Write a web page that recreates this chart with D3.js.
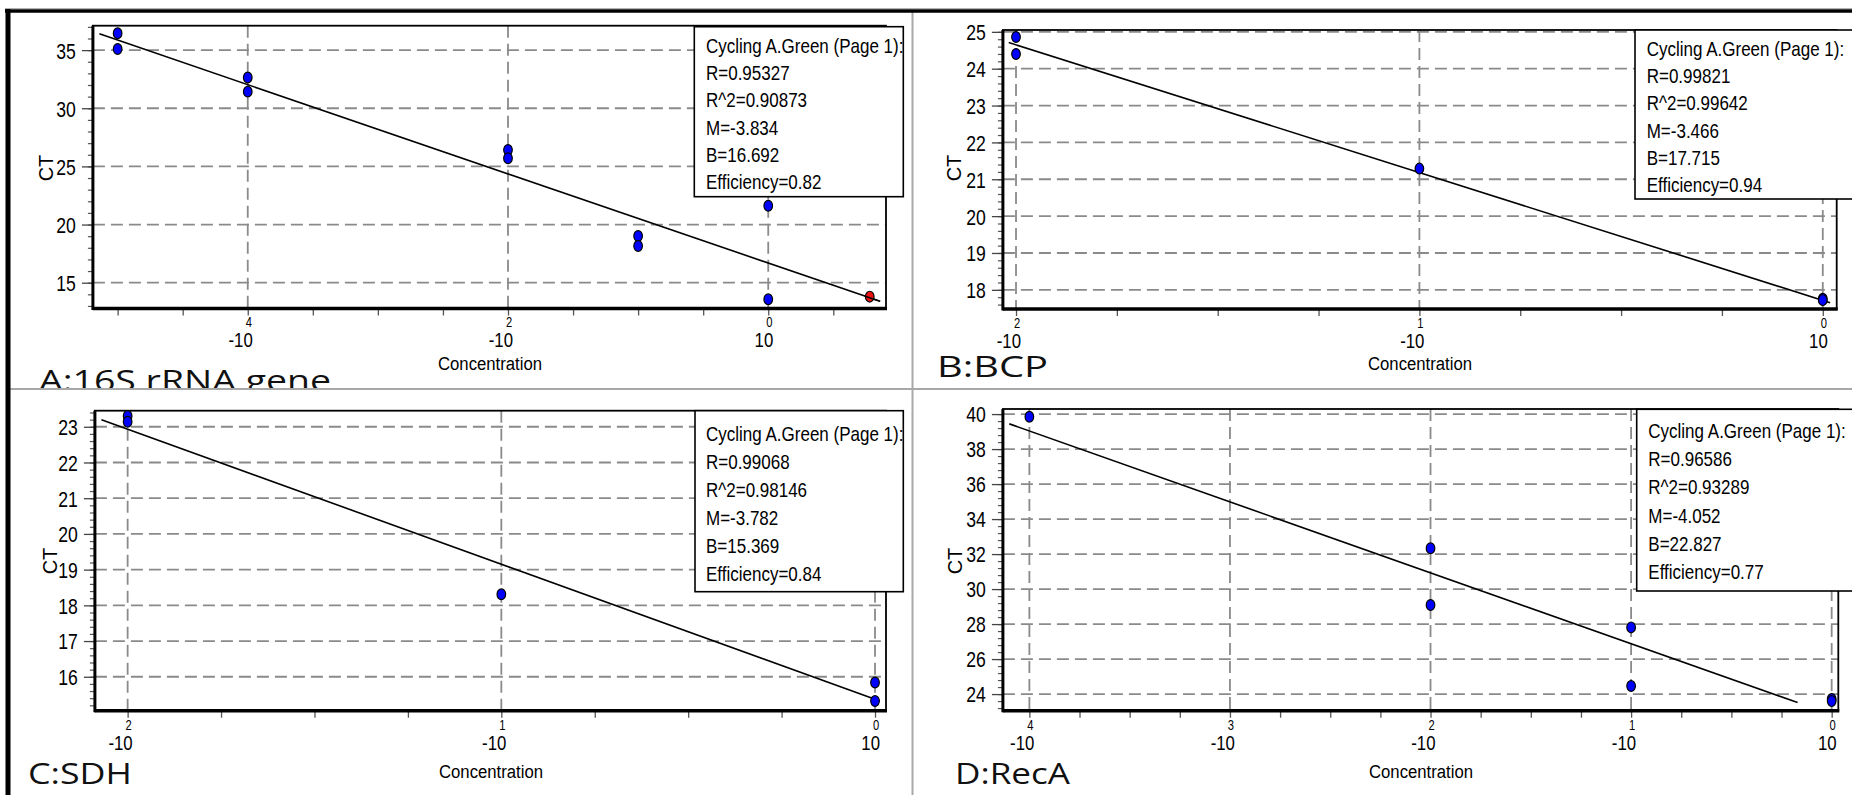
<!DOCTYPE html>
<html><head><meta charset="utf-8">
<script src="https://cdn.jsdelivr.net/npm/d3@7"></script>
<style>body{margin:0;background:#fff;} svg{display:block;}</style>
</head><body><svg id="c" width="1852" height="795"></svg>
<script>
// ---------- data (x = log10 concentration, y = CT) ----------
const titles = ["A:16S rRNA gene", "B:BCP", "C:SDH", "D:RecA"];

const xA = [-5, -5, -4, -4, -2, -2, -1, -1, 0, 0];
const ctA = [36.45, 35.1, 32.65, 31.43, 26.41, 25.7, 19.02, 18.16, 21.62, 13.57];
const redXA = [0.78];
const redCtA = [13.8];

const xB = [-2, -2, -1, 0, 0];
const ctB = [24.86, 24.4, 21.29, 17.76, 17.72];

const xC = [-2, -2, -1, 0, 0];
const ctC = [23.3, 23.14, 18.31, 15.84, 15.32];

const xD = [-4, -2, -2, -1, -1, 0, 0];
const ctD = [39.85, 32.33, 29.09, 27.81, 24.46, 23.72, 23.6];

const statsA = ["Cycling A.Green (Page 1):", "R=0.95327", "R^2=0.90873", "M=-3.834", "B=16.692", "Efficiency=0.82"];
const statsB = ["Cycling A.Green (Page 1):", "R=0.99821", "R^2=0.99642", "M=-3.466", "B=17.715", "Efficiency=0.94"];
const statsC = ["Cycling A.Green (Page 1):", "R=0.99068", "R^2=0.98146", "M=-3.782", "B=15.369", "Efficiency=0.84"];
const statsD = ["Cycling A.Green (Page 1):", "R=0.96586", "R^2=0.93289", "M=-4.052", "B=22.827", "Efficiency=0.77"];

const slopes = [-3.834, -3.466, -3.782, -4.052];
const intercepts = [16.692, 17.715, 15.369, 22.827];
const lineExtA = [-5.14, 0.86];
const lineExtB = [-2.018, 0.018];
const lineExtC = [-2.07, 0.013];
const lineExtD = [-4.1, -0.17];

const xDomA = [-5.19, 0.905], yDomA = [12.78, 37.1];
const xDomB = [-2.0325, 0.0345], yDomB = [17.48, 25.05];
const xDomC = [-2.0876, 0.0294], yDomC = [15.05, 23.45];
const xDomD = [-4.132, 0.033], yDomD = [23.05, 40.29];

const xMajorA = [-4, -2, 0], xMajorB = [-2, -1, 0], xMajorC = [-2, -1, 0], xMajorD = [-4, -3, -2, -1, 0];
const yMajorA = [15, 20, 25, 30, 35];
const yMajorB = [18, 19, 20, 21, 22, 23, 24, 25];
const yMajorC = [16, 17, 18, 19, 20, 21, 22, 23];
const yMajorD = [24, 26, 28, 30, 32, 34, 36, 38, 40];

const xTitle = "Concentration", yTitle = "CT";

// ---------- layout ----------
const panels = [
  {title: titles[0], xs: xA, ys: ctA, rx: redXA, ry: redCtA, stats: statsA, M: slopes[0], B: intercepts[0], ext: lineExtA,
   xDom: xDomA, yDom: yDomA, xMaj: xMajorA, yMaj: yMajorA, xMin: d3.range(-5, 0.51, 0.5), yMin: d3.range(13, 37.01, 1),
   box: {l: 92.9, r: 886, t: 25.7, b: 308.5}, leg: {x: 694.3, y: 26.7, w: 209, h: 170, tx: 706, ty: 53, dy: 27.2},
   ct: {x: 46, y: 168}, conc: {x: 490, y: 370}, tt: {x: 39, y: 391, w: 292}},
  {title: titles[1], xs: xB, ys: ctB, rx: [], ry: [], stats: statsB, M: slopes[1], B: intercepts[1], ext: lineExtB,
   xDom: xDomB, yDom: yDomB, xMaj: xMajorB, yMaj: yMajorB, xMin: d3.range(-2, 0.01, 0.25), yMin: d3.range(17.6, 25.01, 0.2),
   box: {l: 1002.9, r: 1836.7, t: 30, b: 309}, leg: {x: 1635, y: 30, w: 240, h: 169, tx: 1646.7, ty: 56, dy: 27.2},
   ct: {x: 954, y: 168}, conc: {x: 1420, y: 370}, tt: {x: 937, y: 377, w: 111}},
  {title: titles[2], xs: xC, ys: ctC, rx: [], ry: [], stats: statsC, M: slopes[2], B: intercepts[2], ext: lineExtC,
   xDom: xDomC, yDom: yDomC, xMaj: xMajorC, yMaj: yMajorC, xMin: d3.range(-2, 0.01, 0.25), yMin: d3.range(15.2, 23.41, 0.2),
   box: {l: 94.9, r: 886, t: 410.7, b: 710.7}, leg: {x: 695, y: 410.7, w: 208.3, h: 181, tx: 706, ty: 441, dy: 28},
   ct: {x: 50, y: 561}, conc: {x: 491, y: 778}, tt: {x: 28, y: 784, w: 104}},
  {title: titles[3], xs: xD, ys: ctD, rx: [], ry: [], stats: statsD, M: slopes[3], B: intercepts[3], ext: lineExtD,
   xDom: xDomD, yDom: yDomD, xMaj: xMajorD, yMaj: yMajorD, xMin: d3.range(-4, 0.01, 0.25), yMin: d3.range(23.2, 40.21, 0.4),
   box: {l: 1002.9, r: 1838.3, t: 409, b: 710.7}, leg: {x: 1636.7, y: 409.3, w: 240, h: 181.7, tx: 1648.3, ty: 438, dy: 28.2},
   ct: {x: 955, y: 561}, conc: {x: 1421, y: 778}, tt: {x: 955, y: 784, w: 115}}
];

const svg = d3.select("#c");
const FONT = "'Liberation Sans', Arial, sans-serif";
const TFONT = "'Open Sans', 'Noto Sans', sans-serif";
const SX = 0.8; // horizontal condensation of the software's text

svg.append("rect").attr("width", 1852).attr("height", 795).attr("fill", "#fff");

function drawPanel(p) {
  const g = svg.append("g");
  const x = d3.scaleLinear().domain(p.xDom).range([p.box.l, p.box.r]);
  const y = d3.scaleLinear().domain(p.yDom).range([p.box.b, p.box.t]);

  // grid
  const grid = g.append("g").attr("stroke", "#8a8a8a").attr("stroke-width", 1.8).attr("stroke-dasharray", "12,6");
  grid.selectAll(".hg").data(p.yMaj).join("line")
    .attr("x1", p.box.l).attr("x2", p.box.r).attr("y1", d => y(d)).attr("y2", d => y(d));
  grid.selectAll(".vg").data(p.xMaj).join("line")
    .attr("y1", p.box.t).attr("y2", p.box.b).attr("x1", d => x(d)).attr("x2", d => x(d));

  // y axis: minor + major
  const yMinAx = g.append("g").attr("transform", `translate(${p.box.l},0)`)
    .call(d3.axisLeft(y).tickValues(p.yMin).tickSize(5).tickFormat(""));
  yMinAx.select(".domain").remove();
  yMinAx.selectAll("line").attr("stroke", "#555").attr("stroke-width", 1.2);
  const yAx = g.append("g").attr("transform", `translate(${p.box.l},0)`)
    .call(d3.axisLeft(y).tickValues(p.yMaj).tickSize(11).tickFormat(d3.format("d")));
  yAx.select(".domain").remove();
  yAx.selectAll("line").attr("stroke", "#444").attr("stroke-width", 1.3);
  yAx.selectAll("text").attr("font-family", FONT).attr("font-size", 22).attr("fill", "#000")
    .attr("dy", "0.36em").attr("x", -17 / SX).attr("transform", `scale(${SX},1)`);

  // x axis minor ticks
  const xAx = g.append("g").attr("transform", `translate(0,${p.box.b})`)
    .call(d3.axisBottom(x).tickValues(p.xMin).tickSize(7).tickFormat(""));
  xAx.select(".domain").remove();
  xAx.selectAll("line").attr("stroke", "#555").attr("stroke-width", 1.3);

  // x major labels: exponent above, base below (one text element per label)
  const lab = g.selectAll(".xl").data(p.xMaj).join("text")
    .attr("transform", d => `translate(${x(d)},${p.box.b}) scale(${SX},1)`)
    .attr("font-family", FONT).attr("fill", "#000");
  lab.append("tspan").attr("x", 1 / SX).attr("y", 19).attr("text-anchor", "middle").attr("font-size", 14)
    .text(d => String(Math.abs(d)));
  lab.append("tspan").attr("x", 5 / SX).attr("y", 39).attr("text-anchor", "end").attr("font-size", 21)
    .text(d => (d < 0 ? "-10" : "10"));

  // frame
  g.append("rect").attr("x", p.box.l).attr("y", p.box.t).attr("width", p.box.r - p.box.l).attr("height", p.box.b - p.box.t)
    .attr("fill", "none").attr("stroke", "#000").attr("stroke-width", 1.8);
  g.append("line").attr("x1", p.box.l).attr("x2", p.box.l).attr("y1", p.box.t).attr("y2", p.box.b + 1.5)
    .attr("stroke", "#000").attr("stroke-width", 3);
  g.append("line").attr("x1", p.box.l).attr("x2", p.box.r + 1).attr("y1", p.box.b).attr("y2", p.box.b)
    .attr("stroke", "#000").attr("stroke-width", 3.5);

  // fitted line
  const lineGen = d3.line().x(d => x(d)).y(d => y(p.M * d + p.B));
  g.append("path").datum(p.ext).attr("d", lineGen).attr("fill", "none").attr("stroke", "#000").attr("stroke-width", 1.6);

  // points
  g.selectAll(".pt").data(p.xs.map((v, i) => [v, p.ys[i]])).join("ellipse")
    .attr("cx", d => x(d[0])).attr("cy", d => y(d[1])).attr("rx", 4.3).attr("ry", 5.4)
    .attr("fill", "#0000ff").attr("stroke", "#000").attr("stroke-width", 1.2);
  g.selectAll(".rp").data(p.rx.map((v, i) => [v, p.ry[i]])).join("ellipse")
    .attr("cx", d => x(d[0])).attr("cy", d => y(d[1])).attr("rx", 4.3).attr("ry", 5.4)
    .attr("fill", "#ee1111").attr("stroke", "#000").attr("stroke-width", 1.2);
  if (p.rx.length) {
    g.append("path").datum([p.rx[0] - 0.04, p.ext[1]]).attr("d", lineGen)
      .attr("fill", "none").attr("stroke", "#000").attr("stroke-width", 1.4);
  }

  // legend
  g.append("rect").attr("x", p.leg.x).attr("y", p.leg.y).attr("width", p.leg.w).attr("height", p.leg.h)
    .attr("fill", "#fff").attr("stroke", "#000").attr("stroke-width", 1.6);
  g.selectAll(".lt").data(p.stats).join("text")
    .attr("transform", (d, i) => `translate(${p.leg.tx},${p.leg.ty + i * p.leg.dy}) scale(0.81,1)`)
    .attr("font-family", FONT).attr("font-size", 21).attr("fill", "#000").text(d => d);

  // axis titles
  g.append("text").attr("transform", `translate(${p.ct.x},${p.ct.y}) rotate(-90)`)
    .attr("text-anchor", "middle").attr("dy", "0.35em").attr("font-family", FONT).attr("font-size", 20).text(yTitle);
  g.append("text").attr("transform", `translate(${p.conc.x},${p.conc.y}) scale(0.88,1)`).attr("text-anchor", "middle")
    .attr("font-family", FONT).attr("font-size", 19).text(xTitle);
}

function drawTitle(p) {
  svg.append("text").attr("x", p.tt.x).attr("y", p.tt.y).attr("font-family", TFONT)
    .attr("font-size", 30).attr("fill", "#111")
    .attr("textLength", p.tt.w).attr("lengthAdjust", "spacingAndGlyphs").text(p.title);
}

// panel titles & panels
drawPanel(panels[0]);
drawPanel(panels[1]);
drawTitle(panels[0]);
drawTitle(panels[1]);
// lower half background covers bottom of panel A's title
svg.append("rect").attr("x", 0).attr("y", 389.5).attr("width", 1852).attr("height", 406).attr("fill", "#fff");
drawPanel(panels[2]);
drawPanel(panels[3]);
drawTitle(panels[2]);
drawTitle(panels[3]);

// separators and outer frame
svg.append("line").attr("x1", 912.5).attr("x2", 912.5).attr("y1", 12).attr("y2", 795).attr("stroke", "#a8a8a8").attr("stroke-width", 2);
svg.append("line").attr("x1", 10).attr("x2", 1852).attr("y1", 389).attr("y2", 389).attr("stroke", "#a8a8a8").attr("stroke-width", 2);
svg.append("line").attr("x1", 5).attr("x2", 1852).attr("y1", 8.5).attr("y2", 8.5).attr("stroke", "#b0b0b0").attr("stroke-width", 1);
svg.append("line").attr("x1", 5).attr("x2", 1852).attr("y1", 11).attr("y2", 11).attr("stroke", "#000").attr("stroke-width", 3.5);
svg.append("line").attr("x1", 8).attr("x2", 8).attr("y1", 9).attr("y2", 795).attr("stroke", "#000").attr("stroke-width", 5);
</script></body></html>
